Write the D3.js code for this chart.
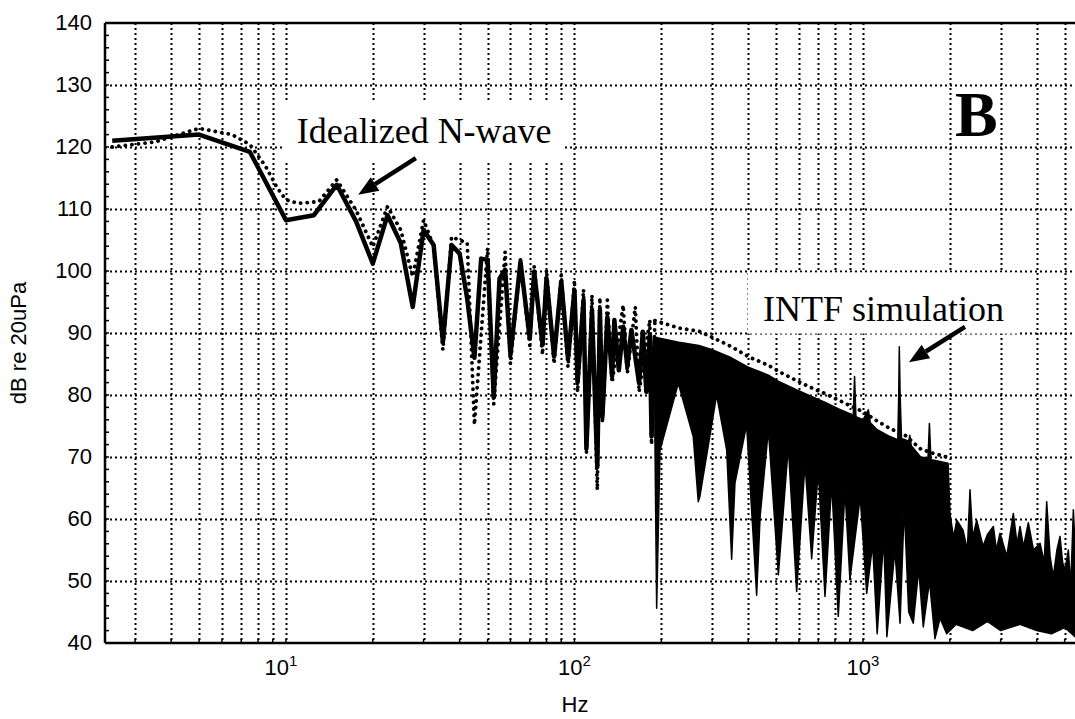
<!DOCTYPE html>
<html>
<head>
<meta charset="utf-8">
<script src="https://cdn.jsdelivr.net/npm/d3@7"></script>
<style>
    body { margin: 0; background: #fff; }
    svg { display: block; }
</style>
</head>
<body>
<svg id="chart-svg" width="1075" height="719"></svg>
<script>
// axis ranges
const xMin = 2.36, xMax = 5430;
const yMin = 40, yMax = 140;
const yTicks = [40, 50, 60, 70, 80, 90, 100, 110, 120, 130, 140];
const xTicks = [10, 100, 1000];
const xTickExp = ["1", "2", "3"];

// INTF simulation (solid line), resolved low frequency part
const intfHz = [2.5, 5, 7.5, 10, 12.5, 15, 17.5, 20, 22.5, 25, 27.5, 30, 32.5, 35, 37.5, 40, 42.5, 45, 47.5, 50,
    52.5, 55, 57.5, 60, 65, 70, 72.5, 77.5, 80, 85, 90, 95, 100, 102.5, 107.5, 110, 115, 120, 122.5, 125,
    130, 135, 137.5, 142.5, 147.5, 152.5, 157.5, 167.5, 172.5, 177.5, 182.5, 185, 190];
const intfDb = [121.0, 122.0, 119.2, 108.2, 109.0, 113.9, 108.0, 101.2, 109.0, 104.5, 94.2, 106.6, 104.2, 88.6, 104.2, 102.8, 95.5, 86.0, 102.0, 101.8,
    79.7, 98.8, 100.2, 86.5, 101.5, 89.1, 99.9, 88.1, 98.8, 86.2, 98.3, 85.9, 96.9, 82.1, 95.3, 71.4, 93.7, 68.4, 93.7, 76.5,
    92.6, 83.0, 92.1, 84.0, 91.0, 84.6, 90.5, 81.9, 90.2, 80.5, 89.8, 73.3, 89.3];

// INTF simulation, dense part drawn as a band: upper edge and lower edge
const bandTopHz = [190, 230, 270, 300, 350, 400, 470, 510, 590, 660, 740, 820, 900, 925, 935, 945, 1000, 1044, 1060, 1120,
    1240, 1320, 1330, 1336, 1345, 1360, 1413, 1440, 1453, 1470, 1584, 1680, 1699, 1720, 1745, 1972, 2002, 2060, 2113, 2222,
    2300, 2349, 2400, 2478, 2606, 2700, 2830, 2900, 2985, 3150, 3319, 3420, 3502, 3600, 3741, 3900, 4107, 4250, 4332, 4450,
    4567, 4700, 4817, 4920, 5013, 5150, 5250, 5358, 5430];
const bandTopDb = [89.3, 88.5, 88.0, 87.3, 86.0, 84.5, 83.2, 82.2, 80.8, 79.8, 78.8, 77.8, 77.0, 76.6, 83.0, 76.5, 76.0, 77.6, 75.5, 74.4,
    73.3, 72.8, 80.0, 87.8, 80.0, 73.0, 72.7, 72.5, 73.5, 71.8, 70.0, 69.8, 75.4, 69.6, 69.5, 69.0, 60.9, 57.0, 59.8, 58.2,
    55.0, 64.7, 57.0, 59.8, 55.6, 57.5, 58.8, 55.0, 57.7, 54.0, 60.9, 56.0, 58.8, 55.5, 59.4, 55.0, 56.1, 53.0, 62.8, 54.0,
    50.7, 55.0, 57.2, 53.0, 51.8, 55.0, 49.0, 61.5, 56.0];
const bandLowHz = [190, 192.7, 197.9, 229, 258, 268.6, 272, 311, 337, 350.6, 360, 395, 428, 440, 470, 509, 551, 589, 629.5, 664,
    700, 738.5, 779, 821, 866, 901, 978, 1030, 1080, 1120, 1180, 1210, 1290, 1344, 1390, 1440, 1494, 1560, 1618, 1700,
    1776, 1850, 1950, 2100, 2400, 2700, 3000, 3500, 4000, 4500, 5000, 5430];
const bandLowDb = [73.5, 45.6, 71.1, 81.9, 73.3, 62.8, 63.6, 80.0, 71.1, 53.5, 65.8, 75.2, 47.7, 60.4, 74.4, 51.0, 71.7, 48.3, 69.0, 53.6,
    67.9, 47.5, 65.8, 44.3, 64.7, 50.2, 63.6, 48.0, 56.0, 41.5, 57.0, 41.0, 55.0, 43.2, 62.0, 45.0, 43.2, 52.0, 42.6, 50.0,
    40.7, 44.0, 41.5, 43.0, 42.0, 43.5, 42.0, 43.0, 42.0, 41.5, 42.5, 41.0];

// Idealized N-wave (dotted line)
const nwaveHz = [2.5, 3.5, 5, 6.5, 7.5, 8.5, 9.3, 10, 11, 13, 15, 17.5, 20, 22.5, 25, 27.5, 30, 32.5, 35, 37.5,
    42.5, 45, 50, 52.5, 57.5, 60, 65, 70, 72.5, 77.5, 80, 85, 90, 95, 100, 102.5, 107.5, 110, 115, 120,
    122.5, 125, 130, 135, 147.5, 152.5, 162.5, 167.5, 182.5, 185, 190];
const nwaveDb = [120.0, 120.8, 123.0, 122.0, 120.4, 116.9, 113.5, 111.5, 110.9, 111.2, 114.7, 109.8, 103.9, 110.4, 106.6, 99.1, 108.2, 104.0, 87.3, 105.5,
    104.5, 75.2, 103.7, 78.5, 103.1, 85.0, 101.8, 88.0, 100.7, 86.5, 100.2, 85.0, 99.4, 84.5, 98.5, 80.5, 97.0, 70.5, 96.1, 64.7,
    95.7, 75.5, 95.3, 82.0, 94.5, 83.5, 94.2, 80.5, 92.1, 72.0, 92.0];
// Idealized N-wave, upper edge over the dense part
const nwaveTopHz = [190, 230, 270, 300, 350, 400, 470, 510, 590, 660, 740, 820, 900, 1000, 1120, 1240, 1400, 1584, 1750, 1950];
const nwaveTopDb = [92.0, 90.8, 90.3, 89.3, 87.8, 86.2, 84.8, 83.8, 82.3, 81.2, 80.2, 79.2, 78.3, 77.3, 75.8, 74.6, 73.5, 71.3, 70.6, 70.0];

let svg = d3.select("#chart-svg");
let margin = {top: 23, right: 0, bottom: 76, left: 105};
let width = +svg.attr("width") - margin.left - margin.right;
let height = +svg.attr("height") - margin.top - margin.bottom;

let x_scale = d3.scaleLog()
    .domain([xMin, xMax])
    .range([0, width]);

let y_scale = d3.scaleLinear()
    .domain([yMin, yMax])
    .range([height, 0]);

let g = svg.append("g")
    .attr("transform", `translate(${margin.left},${margin.top})`);

// grid positions 1..9 per decade
let gridHz = [];
[1, 10, 100, 1000].forEach(dec => {
    d3.range(1, 10).forEach(k => {
        let f = k * dec;
        if (f > xMin && f < xMax) gridHz.push(f);
    });
});

// vertical grid
g.append("g")
    .attr("class", "grid-x")
    .selectAll("line")
    .data(gridHz)
    .join("line")
    .attr("x1", d => Math.round(x_scale(d)) + 0.5)
    .attr("x2", d => Math.round(x_scale(d)) + 0.5)
    .attr("y1", 0)
    .attr("y2", height)
    .attr("stroke", "#000")
    .attr("stroke-width", 2)
    .attr("stroke-dasharray", "2,3");

// horizontal grid
g.append("g")
    .attr("class", "grid-y")
    .selectAll("line")
    .data(yTicks.slice(1, -1))
    .join("line")
    .attr("x1", 0)
    .attr("x2", width)
    .attr("y1", d => Math.round(y_scale(d)) + 0.5)
    .attr("y2", d => Math.round(y_scale(d)) + 0.5)
    .attr("stroke", "#000")
    .attr("stroke-width", 2)
    .attr("stroke-dasharray", "2,3");

// annotation layer (boxes are filled in later, below the data)
let boxLayer = g.append("g").attr("class", "boxes");

let line = d3.line()
    .x(d => x_scale(d[0]))
    .y(d => y_scale(d[1]));

// dense band of the INTF spectrum
let bandPts = d3.zip(bandTopHz, bandTopDb).concat(d3.zip(bandLowHz, bandLowDb).reverse());
g.append("path")
    .attr("class", "band")
    .attr("d", line(bandPts) + "Z")
    .attr("fill", "#000")
    .attr("stroke", "#000")
    .attr("stroke-width", 1.5)
    .attr("stroke-linejoin", "round");

// INTF simulation line
g.append("path")
    .attr("class", "line-intf")
    .attr("d", line(d3.zip(intfHz, intfDb)))
    .attr("fill", "none")
    .attr("stroke", "#000")
    .attr("stroke-width", 4.5)
    .attr("stroke-linejoin", "round");

// idealized N-wave, dotted
[d3.zip(nwaveHz, nwaveDb), d3.zip(nwaveTopHz, nwaveTopDb)].forEach(pts => {
    g.append("path")
        .attr("class", "line-nwave")
        .attr("d", line(pts))
        .attr("fill", "none")
        .attr("stroke", "#000")
        .attr("stroke-width", 3.8)
        .attr("stroke-linecap", "round")
        .attr("stroke-dasharray", "0.1,6.5");
});

// frame
g.append("line")
    .attr("x1", 0).attr("x2", 0).attr("y1", 0).attr("y2", height)
    .attr("stroke", "#000").attr("stroke-width", 2.5);
g.append("line")
    .attr("x1", 0).attr("x2", width).attr("y1", 0).attr("y2", 0)
    .attr("stroke", "#000").attr("stroke-width", 2.5);
g.append("line")
    .attr("x1", 0).attr("x2", width).attr("y1", height).attr("y2", height)
    .attr("stroke", "#000").attr("stroke-width", 2.5);

// small ticks on the frame
g.append("g")
    .selectAll("line")
    .data(d3.range(yMin, yMax, 2))
    .join("line")
    .attr("x1", 0).attr("x2", 4)
    .attr("y1", d => y_scale(d)).attr("y2", d => y_scale(d))
    .attr("stroke", "#000").attr("stroke-width", 1.5);
g.append("g")
    .selectAll("line")
    .data(gridHz)
    .join("line")
    .attr("x1", d => x_scale(d)).attr("x2", d => x_scale(d))
    .attr("y1", height).attr("y2", height - 4)
    .attr("stroke", "#000").attr("stroke-width", 1.5);

// y tick labels
g.append("g")
    .attr("class", "axis-y")
    .selectAll("text")
    .data(yTicks)
    .join("text")
    .attr("x", -13)
    .attr("y", d => y_scale(d))
    .attr("dy", "0.3em")
    .attr("text-anchor", "end")
    .attr("font-family", "Liberation Sans, Arial, sans-serif")
    .attr("font-size", "22px")
    .attr("fill", "#000")
    .text(d => d);

// x tick labels 10^n
xTicks.forEach((v, i) => {
    let t = g.append("text")
        .attr("x", x_scale(v) - (i === 0 ? 5 : 0))
        .attr("y", height + 32)
        .attr("text-anchor", "middle")
        .attr("font-family", "Liberation Sans, Arial, sans-serif")
        .attr("font-size", "22px")
        .attr("fill", "#000");
    t.append("tspan").text("10");
    t.append("tspan").attr("dy", -9).attr("font-size", "15px").text(xTickExp[i]);
});

// x label
g.append("text")
    .attr("x", 470)
    .attr("y", height + 69)
    .attr("text-anchor", "middle")
    .attr("font-family", "Liberation Sans, Arial, sans-serif")
    .attr("font-size", "22px")
    .text("Hz");

// y label
svg.append("text")
    .attr("transform", "translate(26,343) rotate(-90)")
    .attr("text-anchor", "middle")
    .attr("font-family", "Liberation Sans, Arial, sans-serif")
    .attr("font-size", "22px")
    .text("dB re 20uPa");

// annotations with white boxes behind them
function note(txt, f, db, pad) {
    let t = g.append("text")
        .attr("x", x_scale(f))
        .attr("y", y_scale(db))
        .attr("font-family", "Liberation Serif, Times New Roman, serif")
        .attr("font-size", "36px")
        .attr("fill", "#000")
        .text(txt);
    let b = t.node().getBBox();
    boxLayer.append("rect")
        .attr("x", b.x - pad[0])
        .attr("y", b.y - pad[1])
        .attr("width", b.width + 2 * pad[0])
        .attr("height", b.height + pad[1] + pad[2])
        .attr("fill", "#fff");
}
note("Idealized N-wave", 10.9, 120.6, [12, 10, 9]);
note("INTF simulation", 450, 92.0, [15, 16, 5]);

function arrow(f0, db0, f1, db1) {
    let x0 = x_scale(f0), y0 = y_scale(db0), x1 = x_scale(f1), y1 = y_scale(db1);
    let a = Math.atan2(y1 - y0, x1 - x0);
    let len = 20, w = 8;
    let bx = x1 - len * Math.cos(a), by = y1 - len * Math.sin(a);
    g.append("line")
        .attr("x1", x0).attr("y1", y0).attr("x2", bx).attr("y2", by)
        .attr("stroke", "#000").attr("stroke-width", 4.5);
    g.append("polygon")
        .attr("points", [
            [x1, y1],
            [bx + w * Math.sin(a), by - w * Math.cos(a)],
            [bx - w * Math.sin(a), by + w * Math.cos(a)]
        ].map(p => p.join(",")).join(" "))
        .attr("fill", "#000");
}
arrow(28.2, 118.2, 17.8, 112.3);
arrow(2257, 91.0, 1443, 85.3);

// panel letter
g.append("text")
    .attr("x", x_scale(2084))
    .attr("y", y_scale(121.7))
    .attr("font-family", "Liberation Serif, Times New Roman, serif")
    .attr("font-weight", "bold")
    .attr("font-size", "64px")
    .text("B");
</script>
</body>
</html>
